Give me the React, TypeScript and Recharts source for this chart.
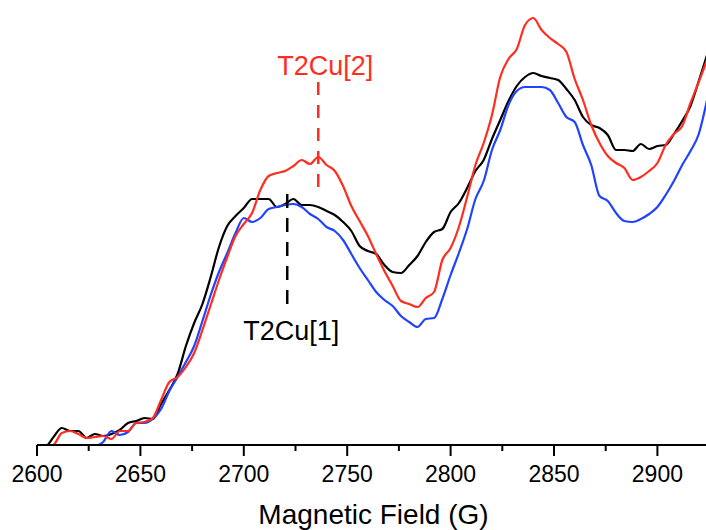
import { LineChart, Line, XAxis, YAxis, ReferenceLine } from 'recharts'

// field grid, G (4 G steps)
const FIELDS = [
  2600, 2604, 2608, 2612, 2616, 2620, 2624, 2628, 2632, 2636,
  2640, 2644, 2648, 2652, 2656, 2660, 2664, 2668, 2672, 2676,
  2680, 2684, 2688, 2692, 2696, 2700, 2704, 2708, 2712, 2716,
  2720, 2724, 2728, 2732, 2736, 2740, 2744, 2748, 2752, 2756,
  2760, 2764, 2768, 2772, 2776, 2780, 2784, 2788, 2792, 2796,
  2800, 2804, 2808, 2812, 2816, 2820, 2824, 2828, 2832, 2836,
  2840, 2844, 2848, 2852, 2856, 2860, 2864, 2868, 2872, 2876,
  2880, 2884, 2888, 2892, 2896, 2900, 2904, 2908, 2912, 2916,
  2920, 2924,
]

// signal, arbitrary units
const BLACK = [
  -3, -2, 8, 17, 14, 14, 7, 11, 9, 11,
  15, 22, 24, 27, 26, 41, 55, 71, 99, 122,
  141, 168, 198, 219, 229, 237, 246, 246, 246, 238,
  241, 246, 240, 240, 238, 234, 230, 223, 214, 199,
  194, 191, 180, 173, 172, 180, 189, 203, 213, 216,
  233, 242, 257, 274, 285, 306, 325, 344, 359, 368,
  372, 369, 367, 365, 356, 345, 328, 320, 317, 310,
  295, 295, 294, 301, 296, 299, 300, 311, 324, 339,
  364, 390,
]

const RED = [
  -5, -3, 0, 12, 14, 11, 7, 8, 9, 6,
  14, 14, 22, 23, 27, 45, 63, 68, 78, 92,
  115, 140, 165, 188, 209, 221, 232, 255, 269, 272,
  274, 279, 285, 281, 288, 280, 274, 259, 239, 224,
  209, 191, 174, 159, 144, 141, 138, 147, 153, 185,
  197, 218, 248, 280, 302, 330, 368, 386, 396, 420,
  427, 415, 407, 401, 393, 366, 345, 320, 302, 289,
  282, 277, 265, 268, 274, 282, 300, 311, 319, 342,
  363, 385,
]

const BLUE = [
  -3, 0, -4, -8, -10, -10, -8, -2, 3, 14,
  10, 13, 22, 22, 26, 36, 54, 68, 83, 99,
  124, 150, 173, 192, 212, 227, 223, 227, 236, 238,
  240, 241, 238, 231, 226, 218, 214, 205, 191, 177,
  165, 153, 145, 139, 129, 123, 118, 126, 127, 146,
  170, 192, 216, 246, 264, 295, 315, 340, 354, 358,
  358, 358, 355, 342, 328, 323, 300, 280, 249, 244,
  232, 224, 223, 226, 231, 238, 250, 264, 280, 294,
  311, 345,
]

const TICKS = [2600, 2625, 2650, 2675, 2700, 2725, 2750, 2775, 2800, 2825, 2850, 2875, 2900]

const data = FIELDS.map((f, i) => ({ field: f, black: BLACK[i], red: RED[i], blue: BLUE[i] }))

const W = 706
const H = 530
const AXIS_H = 85
const AXIS_Y = H - AXIS_H
const FONT = 'Liberation Sans, Arial, Helvetica, sans-serif'
const RED_C = '#ff2d1f'
const BLUE_C = '#2143ff'

function FieldTick({ x, payload }: any) {
  const major = payload.value % 50 === 0
  return (
    <g>
      <line x1={x} x2={x} y1={AXIS_Y} y2={AXIS_Y + (major ? 11 : 6)} stroke="#000" strokeWidth={2} />
      {major && (
        <text x={x} y={AXIS_Y + 37} textAnchor="middle" fontSize={23} fontFamily={FONT} fill="#000">
          {payload.value}
        </text>
      )}
    </g>
  )
}

const tag = (text: string, color: string, dx: number, below: boolean) => (p: any) => {
  const vb = p.viewBox
  const y = below ? vb.y + vb.height + 30 : vb.y - 7
  return (
    <text x={vb.x + dx} y={y} textAnchor="middle" fontSize={27} fontFamily={FONT} fill={color}>
      {text}
    </text>
  )
}

export default function App() {
  return (
    <div style={{ width: W, height: H, background: '#fff' }}>
      <style>{'body{margin:0}'}</style>
      <LineChart width={W} height={H} data={data} margin={{ top: 0, right: 0, left: 37, bottom: 0 }}>
        <XAxis
          dataKey="field"
          type="number"
          domain={[2600, 2923.5]}
          allowDataOverflow
          ticks={TICKS}
          height={AXIS_H}
          tickLine={false}
          axisLine={{ stroke: '#000', strokeWidth: 2 }}
          tick={<FieldTick />}
          label={{ value: 'Magnetic Field (G)', position: 'insideBottom', offset: 6, dx: 2, fontSize: 28, fontFamily: FONT, fill: '#000' }}
        />
        <YAxis hide domain={[0, 445]} allowDataOverflow />
        <Line dataKey="black" type="monotone" stroke="#000" strokeWidth={2.2} dot={false} isAnimationActive={false} />
        <Line dataKey="blue" type="monotone" stroke={BLUE_C} strokeWidth={2.2} dot={false} isAnimationActive={false} />
        <Line dataKey="red" type="monotone" stroke={RED_C} strokeWidth={2.2} dot={false} isAnimationActive={false} />
        <ReferenceLine
          segment={[{ x: 2736, y: 363 }, { x: 2736, y: 248 }]}
          stroke={RED_C}
          strokeWidth={2.5}
          strokeDasharray="13 10"
          ifOverflow="visible"
          label={tag('T2Cu[2]', RED_C, 7, false)}
        />
        <ReferenceLine
          segment={[{ x: 2721, y: 251 }, { x: 2721, y: 135 }]}
          stroke="#000"
          strokeWidth={2.5}
          strokeDasharray="14 10"
          ifOverflow="visible"
          label={tag('T2Cu[1]', '#000', 4, true)}
        />
      </LineChart>
    </div>
  )
}
